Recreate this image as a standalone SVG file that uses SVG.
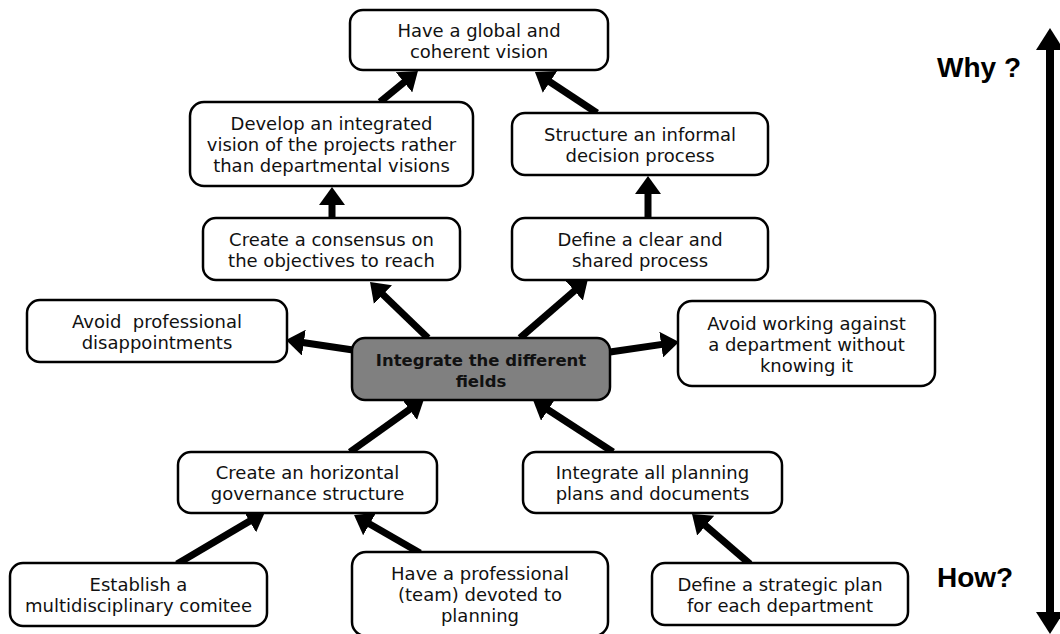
<svg xmlns="http://www.w3.org/2000/svg" width="1060" height="634" viewBox="0 0 1060 634">
  <style>
    .box { fill: #ffffff; stroke: #000000; stroke-width: 2.5; }
    .core { fill: #808080; stroke: #000000; stroke-width: 2.5; }
    .lbl { font-family: "DejaVu Sans", "Liberation Sans", sans-serif; font-size: 18px; fill: #111111; text-anchor: middle; }
    .lbl-b { font-family: "DejaVu Sans", "Liberation Sans", sans-serif; font-size: 16.5px; font-weight: bold; fill: #111111; text-anchor: middle; }
    .side { font-family: "Liberation Sans", Arial, sans-serif; font-size: 28px; font-weight: bold; fill: #000000; }
    .link { stroke: #000000; stroke-width: 7; fill: none; marker-end: url(#head); }
  </style>
  <defs>
    <marker id="head" viewBox="0 0 18 26" refX="8" refY="13" markerWidth="18" markerHeight="26" markerUnits="userSpaceOnUse" orient="auto">
      <path d="M0,0 L18,13 L0,26 Z" fill="#000000"/>
    </marker>
  </defs>

  <!-- connectors -->
  <g id="connectors">
    <line class="link" x1="332" y1="218" x2="332" y2="197"/>
    <line class="link" x1="380" y1="102" x2="410.2" y2="77.3"/>
    <line class="link" x1="597" y1="113" x2="543.3" y2="77.5"/>
    <line class="link" x1="648" y1="218" x2="648" y2="186"/>
    <line class="link" x1="428" y1="338" x2="377.2" y2="289"/>
    <line class="link" x1="520" y1="338" x2="580.4" y2="285.6"/>
    <line class="link" x1="353" y1="350" x2="295.9" y2="341.5"/>
    <line class="link" x1="610" y1="352" x2="669.1" y2="343.4"/>
    <line class="link" x1="350" y1="452" x2="415.9" y2="404.8"/>
    <line class="link" x1="613" y1="452" x2="541.4" y2="405.5"/>
    <line class="link" x1="177" y1="564" x2="256.4" y2="517.1"/>
    <line class="link" x1="420" y1="553" x2="362.7" y2="520"/>
    <line class="link" x1="750" y1="564" x2="699.6" y2="520.5"/>
  </g>

  <!-- Why / How scale -->
  <g id="scale">
    <rect x="1046" y="46" width="8" height="570" fill="#000000"/>
    <path d="M1050,28 L1064,50 L1036,50 Z" fill="#000000"/>
    <path d="M1050,634 L1064,612 L1036,612 Z" fill="#000000"/>
    <text class="side" x="937" y="77">Why ?</text>
    <text class="side" x="937" y="587">How?</text>
  </g>

  <g id="n-global">
    <rect class="box" x="350" y="10" width="258" height="60" rx="13"/>
    <text class="lbl" x="479" y="37">Have a global and</text>
    <text class="lbl" x="479" y="58">coherent vision</text>
  </g>

  <g id="n-develop">
    <rect class="box" x="190" y="102" width="283" height="84" rx="14"/>
    <text class="lbl" x="331.5" y="130">Develop an integrated</text>
    <text class="lbl" x="331.5" y="151">vision of the projects rather</text>
    <text class="lbl" x="331.5" y="172">than departmental visions</text>
  </g>

  <g id="n-structure">
    <rect class="box" x="512" y="113" width="256" height="62" rx="13"/>
    <text class="lbl" x="640" y="141">Structure an informal</text>
    <text class="lbl" x="640" y="162">decision process</text>
  </g>

  <g id="n-consensus">
    <rect class="box" x="203" y="218" width="257" height="62" rx="13"/>
    <text class="lbl" x="331.5" y="246">Create a consensus on</text>
    <text class="lbl" x="331.5" y="267">the objectives to reach</text>
  </g>

  <g id="n-define">
    <rect class="box" x="512" y="218" width="256" height="62" rx="13"/>
    <text class="lbl" x="640" y="246">Define a clear and</text>
    <text class="lbl" x="640" y="267">shared process</text>
  </g>

  <g id="n-avoid-prof">
    <rect class="box" x="27" y="300" width="260" height="62" rx="13"/>
    <text class="lbl" x="157" y="328" xml:space="preserve">Avoid  professional</text>
    <text class="lbl" x="157" y="349">disappointments</text>
  </g>

  <g id="n-center">
    <rect class="core" x="352" y="338" width="258" height="62" rx="13"/>
    <text class="lbl-b" x="481" y="366">Integrate the different</text>
    <text class="lbl-b" x="481" y="387">fields</text>
  </g>

  <g id="n-avoid-work">
    <rect class="box" x="678" y="301" width="257" height="85" rx="14"/>
    <text class="lbl" x="806.5" y="330">Avoid working against</text>
    <text class="lbl" x="806.5" y="351">a department without</text>
    <text class="lbl" x="806.5" y="372">knowing it</text>
  </g>

  <g id="n-horizontal">
    <rect class="box" x="178" y="452" width="259" height="61" rx="13"/>
    <text class="lbl" x="307.5" y="479">Create an horizontal</text>
    <text class="lbl" x="307.5" y="500">governance structure</text>
  </g>

  <g id="n-integrate">
    <rect class="box" x="523" y="452" width="259" height="61" rx="13"/>
    <text class="lbl" x="652.5" y="479">Integrate all planning</text>
    <text class="lbl" x="652.5" y="500">plans and documents</text>
  </g>

  <g id="n-establish">
    <rect class="box" x="10" y="563" width="257" height="63" rx="13"/>
    <text class="lbl" x="138.5" y="591">Establish a</text>
    <text class="lbl" x="138.5" y="612">multidisciplinary comitee</text>
  </g>

  <g id="n-professional">
    <rect class="box" x="352" y="552" width="256" height="84" rx="14"/>
    <text class="lbl" x="480" y="580">Have a professional</text>
    <text class="lbl" x="480" y="601">(team) devoted to</text>
    <text class="lbl" x="480" y="622">planning</text>
  </g>

  <g id="n-strategic">
    <rect class="box" x="652" y="563" width="256" height="62" rx="13"/>
    <text class="lbl" x="780" y="591">Define a strategic plan</text>
    <text class="lbl" x="780" y="612">for each department</text>
  </g>
</svg>
